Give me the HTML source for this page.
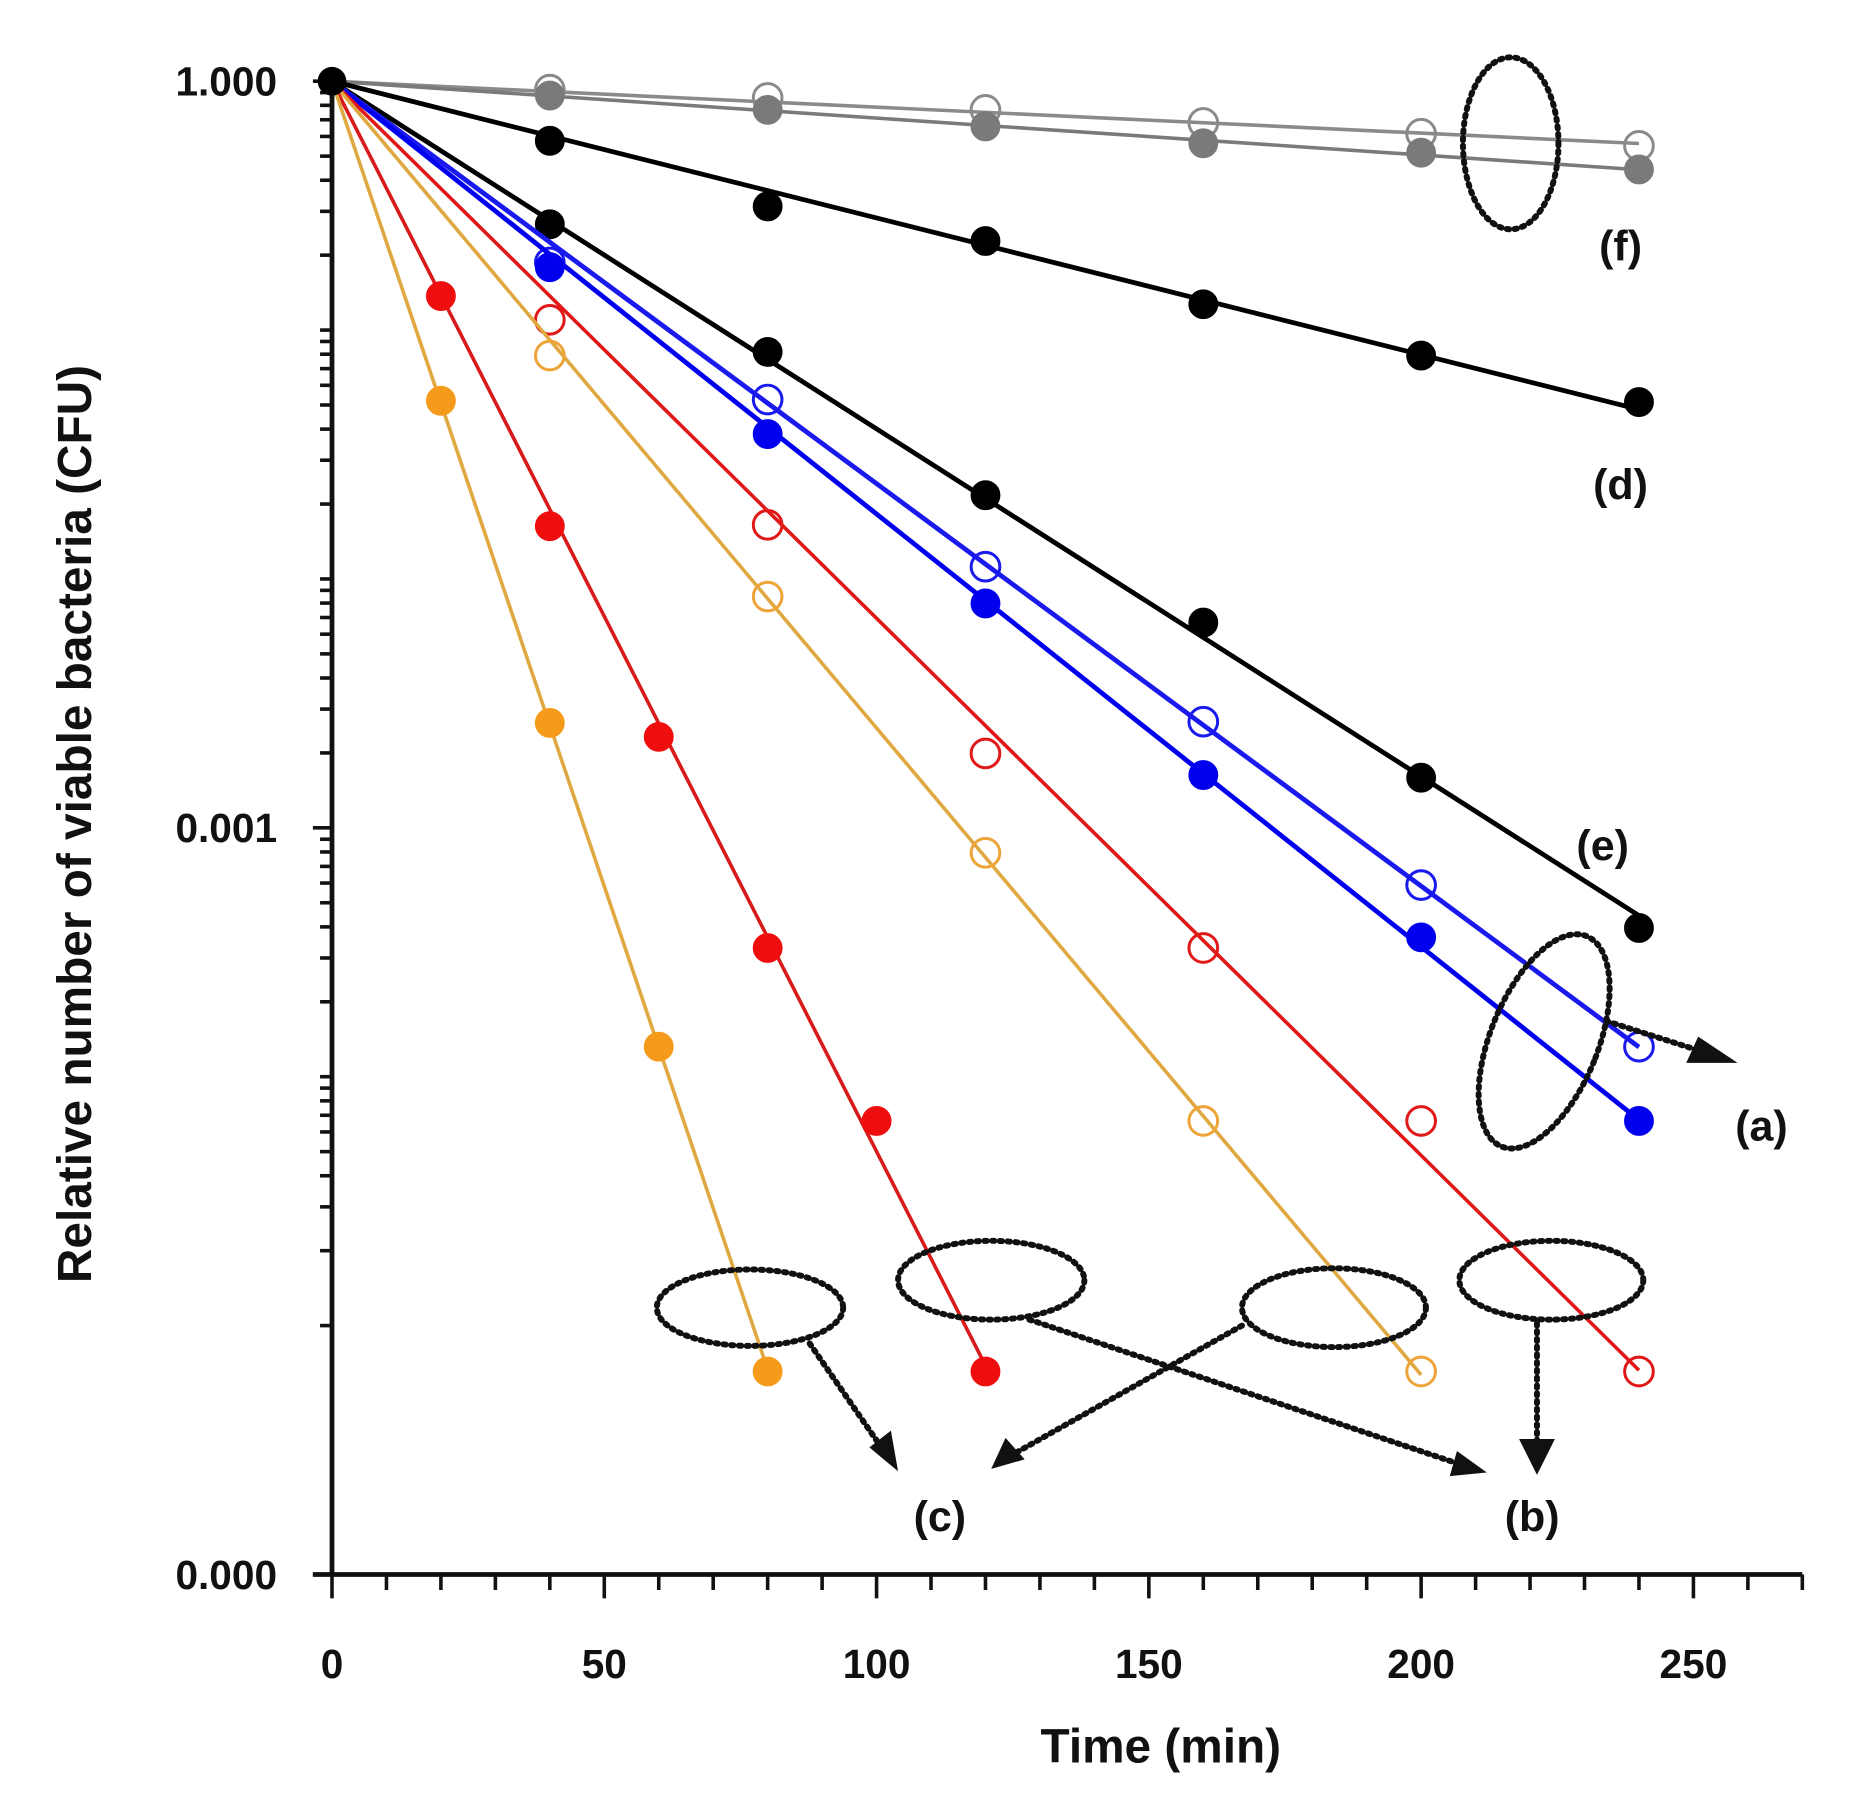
<!DOCTYPE html>
<html><head><meta charset="utf-8"><style>
html,body{margin:0;padding:0;background:#fff;}
svg{display:block;}
text{font-family:"Liberation Sans",sans-serif;font-weight:bold;}
</style></head><body>
<svg id="chart" width="1863" height="1804" viewBox="0 0 1560 1510.6" xmlns="http://www.w3.org/2000/svg">
<g id="axes"></g>
<g id="plot"></g>
<g id="annot" fill="none" stroke="#111" stroke-width="5" stroke-dasharray="2 4.5" stroke-linecap="round">
  <ellipse cx="1265" cy="120" rx="40" ry="72"/>
  <ellipse cx="1293" cy="872" rx="45" ry="95" transform="rotate(22 1293 872)"/>
  <ellipse cx="628" cy="1095" rx="78" ry="32"/>
  <ellipse cx="830" cy="1072" rx="78" ry="33"/>
  <ellipse cx="1117" cy="1095" rx="77" ry="33"/>
  <ellipse cx="1299" cy="1072" rx="77" ry="33"/>
  <line x1="1345" y1="855" x2="1430" y2="882"/>
  <line x1="678" y1="1125" x2="738" y2="1212"/>
  <line x1="1040" y1="1110" x2="848" y2="1218"/>
  <line x1="862" y1="1105" x2="1228" y2="1228"/>
  <line x1="1287" y1="1108" x2="1287" y2="1212"/>
</g>
<g id="heads" fill="#111">
  <polygon points="1455,890 1422,868 1412,890"/>
  <polygon points="752,1232 728,1212 746,1198"/>
  <polygon points="830,1230 842,1204 858,1222"/>
  <polygon points="1245,1233 1220,1215 1214,1236"/>
  <polygon points="1287,1235 1272,1205 1302,1205"/>
</g>
<g font-size="36" fill="#111">
  <text x="1357" y="218" text-anchor="middle">(f)</text>
  <text x="1357" y="418" text-anchor="middle">(d)</text>
  <text x="1342" y="720" text-anchor="middle">(e)</text>
  <text x="1475" y="955" text-anchor="middle">(a)</text>
  <text x="787" y="1282" text-anchor="middle">(c)</text>
  <text x="1283" y="1282" text-anchor="middle">(b)</text>
</g>
<text x="972" y="1476" font-size="40" text-anchor="middle" fill="#111">Time (min)</text>
<text x="0" y="0" font-size="40" text-anchor="middle" fill="#111" transform="translate(76 690) rotate(-90)">Relative number of viable bacteria (CFU)</text>
</svg>
<script>
const xTicks = [0, 50, 100, 150, 200, 250];
const yTickVals = [1, 0.001, 0.000001];
const yTickLabels = ["1.000", "0.001", "0.000"];
const timesA = [0, 40, 80, 120, 160, 200, 240];
const timesB = [0, 20, 40, 60, 80, 100, 120];
const timesC = [0, 20, 40, 60, 80];
const timesD = [0, 40, 80, 120, 160, 200];
const grayOpen = [1, 0.925, 0.857, 0.767, 0.68, 0.615, 0.55];
const grayFilled = [1, 0.876, 0.767, 0.658, 0.563, 0.516, 0.442];
const blackD = [1, 0.576, 0.314, 0.228, 0.127, 0.079, 0.0514];
const blackE = [1, 0.266, 0.0817, 0.0217, 0.00668, 0.00159, 0.000396];
const blueOpen = [1, 0.187, 0.0526, 0.0112, 0.00267, 0.000589, 0.000132];
const blueFilled = [1, 0.179, 0.0382, 0.00797, 0.00163, 0.000363, 0.0000664];
const redOpen = [1, 0.110, 0.0165, 0.00199, 0.000329, 0.0000664, 0.00000654];
const orangeOpen = [1, 0.079, 0.0085, 0.000794, 0.0000664, 0.00000654];
const redFilled = [1, 0.137, 0.0163, 0.00232, 0.000329, 0.0000664, 0.00000654];
const orangeFilled = [1, 0.052, 0.00264, 0.000132, 0.00000654];

const NS = "http://www.w3.org/2000/svg";
const X0 = 278, PXMIN = 4.56, Y0 = 68, PXDEC = 208.4;
function sx(t){ return X0 + t * PXMIN; }
function sy(v){ return Y0 - Math.log10(v) * PXDEC; }
function mk(tag, attrs, parent){ const e = document.createElementNS(NS, tag); for (const k in attrs) e.setAttribute(k, attrs[k]); parent.appendChild(e); return e; }

const axes = document.getElementById('axes');
const plot = document.getElementById('plot');
let ax = mk('line', {x1:X0, y1:sy(1)-6, x2:X0, y2:sy(1e-6), stroke:'#111', 'stroke-width':4}, axes);


let axx = mk('line', {x1:X0-16, y1:sy(1e-6), x2:sx(270), y2:sy(1e-6), stroke:'#111', 'stroke-width':4}, axes);


for (let t = 0; t <= 270; t += 10) {
  const major = t % 50 === 0;
  const tk = mk('line', {x1:sx(t), y1:sy(1e-6), x2:sx(t), y2:sy(1e-6) + (major ? 20 : 13), stroke:'#111', 'stroke-width':3}, axes);
  
  
}
xTicks.forEach(t => {
  const tx = mk('text', {x:sx(t), y:1405, 'font-size':34, 'text-anchor':'middle', fill:'#111'}, axes);
  tx.textContent = t;
  
  
});
for (let d = -1; d >= -6; d--) {
  for (let m = 1; m <= 9; m++) {
    if (d === -6 && m > 1) break;
    const v = m * Math.pow(10, d);
    const major = m === 1 && (d === -3 || d === -6);
    const tk = mk('line', {x1:X0 - (major ? 16 : 10), y1:sy(v), x2:X0, y2:sy(v), stroke:'#111', 'stroke-width':3}, axes);
    
    
  }
}
const topTick = mk('line', {x1:X0 - 16, y1:sy(1), x2:X0, y2:sy(1), stroke:'#111', 'stroke-width':3}, axes);


yTickVals.forEach((v, i) => {
  const tx = mk('text', {x:232, y:sy(v) + 12, 'font-size':34, 'text-anchor':'end', fill:'#111'}, axes);
  tx.textContent = yTickLabels[i];
  
  
});

function series(name, times, vals, color, filled, lw, lineColor) {
  const g = mk('g', {}, plot);
  
  
  let num = 0, den = 0;
  times.forEach((t, i) => { num += t * Math.log10(vals[i]); den += t * t; });
  const k = num / den;
  const tEnd = times[times.length - 1];
  const ln = mk('line', {x1:sx(0), y1:sy(1), x2:sx(tEnd), y2:sy(Math.pow(10, k * tEnd)), stroke:lineColor || color, 'stroke-width':lw}, g);
  
  
  times.forEach((t, i) => {
    if (t === 0) return;
    const c = mk('circle', {cx:sx(t), cy:sy(vals[i]), r:12, fill:filled ? color : 'none', stroke:color, 'stroke-width':filled ? 1 : 2.5}, g);
    
    
  });
}
series('series-gray-open', timesA, grayOpen, '#8a8a8a', false, 3);
series('series-gray-filled', timesA, grayFilled, '#7a7a7a', true, 3);
series('series-d-black', timesA, blackD, '#000', true, 4);
series('series-e-black', timesA, blackE, '#000', true, 4);
series('series-a-blue-open', timesA, blueOpen, '#1a1aee', false, 4);
series('series-a-blue-filled', timesA, blueFilled, '#0000ee', true, 4);
series('series-b-red-open', timesA, redOpen, '#e01818', false, 3);
series('series-c-orange-open', timesD, orangeOpen, '#efa43a', false, 3, '#e0a840');
series('series-b-red-filled', timesB, redFilled, '#ee0e0e', true, 3, '#d81a1a');
series('series-c-orange-filled', timesC, orangeFilled, '#f59a1a', true, 3, '#e0a840');
const origin = mk('circle', {cx:sx(0), cy:sy(1), r:12, fill:'#000'}, plot);


</script>
</body></html>
